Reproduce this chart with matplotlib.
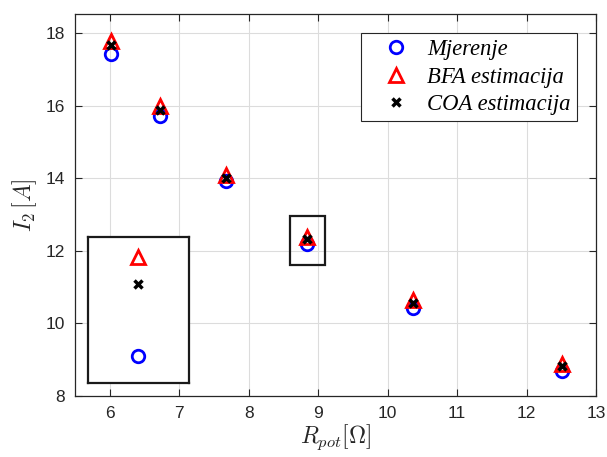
import matplotlib
matplotlib.use('Agg')
import matplotlib.pyplot as plt
import numpy as np

# R_pot [Ohm] values
r_pot = [6.02, 6.73, 7.68, 8.84, 10.37, 12.51]
# measured current and the two estimates [A]
i_mjerenje = [17.42, 15.71, 13.93, 12.18, 10.41, 8.70]
i_bfa = [17.77, 15.98, 14.08, 12.385, 10.63, 8.87]
i_coa = [17.68, 15.89, 14.01, 12.33, 10.57, 8.82]

plt.rcParams['mathtext.fontset'] = 'cm'
plt.rcParams['font.family'] = 'Liberation Sans'

fig = plt.figure(figsize=(6.07, 4.57), dpi=100)
ax = fig.add_axes([75 / 607, 61 / 457, 521 / 607, 382 / 457])

circ = dict(marker='o', linestyle='none', markersize=9, markerfacecolor='none',
            markeredgecolor='#0000ff', markeredgewidth=2)
tri = dict(marker='^', linestyle='none', markersize=10, markerfacecolor='none',
           markeredgecolor='#ff0000', markeredgewidth=2)
crs = dict(marker='x', linestyle='none', markersize=6, color='black',
           markeredgewidth=2.5)

ax.plot(r_pot, i_mjerenje, label='Mjerenje', **circ)
ax.plot(r_pot, i_bfa, label='BFA estimacija', **tri)
ax.plot(r_pot, i_coa, label='COA estimacija', **crs)

ax.set_xlim(5.5, 13)
ax.set_ylim(8, 18.52)
ax.set_xticks(np.arange(6, 14, 1))
ax.set_yticks(np.arange(8, 19, 2))
ax.grid(True, color='#dcdcdc', linewidth=0.8)
ax.set_axisbelow(True)
ax.tick_params(direction='in', top=True, right=True, length=5, width=0.8,
               labelsize=12.5, colors='#262626', labelcolor='#262626', pad=7)
for s in ax.spines.values():
    s.set_color('#262626')
    s.set_linewidth(0.9)

ax.set_xlabel(r'$R_{pot}[\Omega]$', fontsize=17, color='#262626', labelpad=1)
ax.set_ylabel(r'$I_2\,[A]$', fontsize=17, color='#262626', labelpad=5)

leg = ax.legend(loc='upper right', bbox_to_anchor=(0.9635, 0.950),
                prop={'family': 'Liberation Serif', 'style': 'italic', 'size': 16.3},
                fancybox=False, edgecolor='#262626', framealpha=1,
                handletextpad=0.1, labelspacing=0.29, borderpad=0.27,
                handlelength=2.55, borderaxespad=0)
leg.get_frame().set_linewidth(0.8)

# box around the zoomed point
k = 3
ax.add_patch(plt.Rectangle((8.59, 11.61), 0.51, 1.36, fill=False,
                           edgecolor='#1a1a1a', linewidth=1.6))

# zoomed view of that point
x0 = ax.transData.transform((5.68, 8.37))
x1 = ax.transData.transform((7.14, 12.37))
inv = fig.transFigure.inverted()
(fx0, fy0), (fx1, fy1) = inv.transform(x0), inv.transform(x1)
axin = fig.add_axes([fx0, fy0, fx1 - fx0, fy1 - fy0])
axin.plot([r_pot[k]], [i_mjerenje[k]], **circ)
axin.plot([r_pot[k]], [i_bfa[k]], **tri)
axin.plot([r_pot[k]], [i_coa[k]], **crs)
axin.set_xlim(r_pot[k] - 0.1, r_pot[k] + 0.1)
axin.set_ylim(12.126, 12.426)
axin.set_xticks([])
axin.set_yticks([])
for s in axin.spines.values():
    s.set_color('#1a1a1a')
    s.set_linewidth(1.6)

fig.savefig('out.png', dpi=100)
